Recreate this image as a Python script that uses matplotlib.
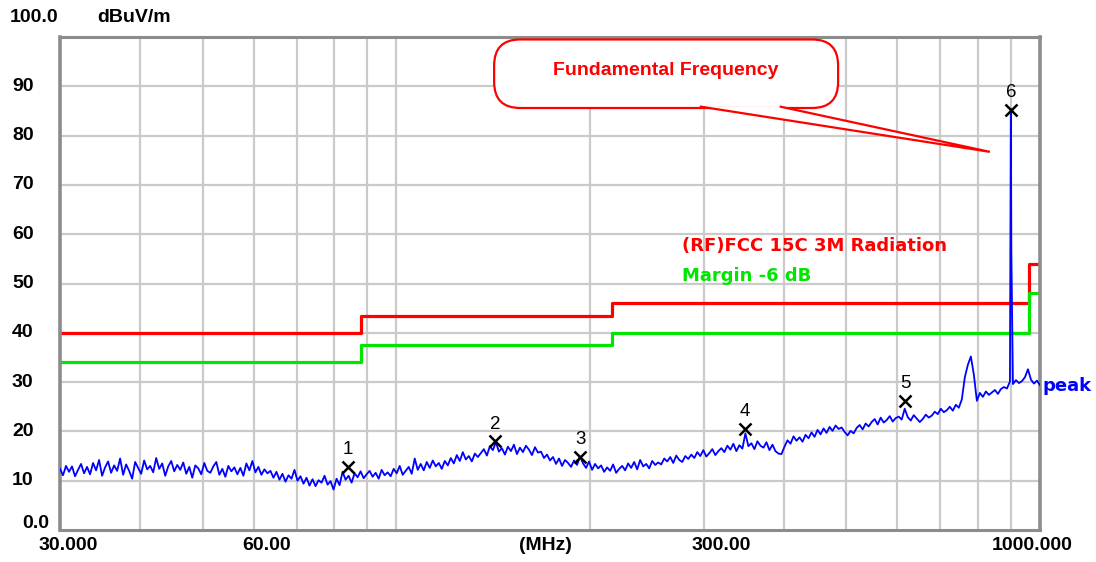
import numpy as np
import matplotlib
matplotlib.use("Agg")
import matplotlib.pyplot as plt
from matplotlib.patches import FancyBboxPatch, Polygon
from matplotlib.ticker import NullLocator

# ----------------------------------------------------------------------
# Data (dBuV/m against MHz)
# ----------------------------------------------------------------------

# Sweep 30 MHz .. 1 GHz, peak detector, one reading per sweep point
SWEEP_START = 30.0
SWEEP_STOP = 1000.0
peak_level = [
    12.4, 11.1, 13.0, 11.8, 12.9, 10.9, 12.2, 13.4, 11.5, 12.8,
    11.3, 13.6, 12.1, 14.2, 11.0, 12.7, 13.9, 11.6, 13.1, 12.0,
    14.5, 11.2, 13.3, 12.0, 10.4, 13.8, 12.6, 11.4, 14.1, 12.3,
    13.0, 11.7, 14.6, 12.4, 13.5, 11.0, 12.9, 14.0, 11.9, 13.2,
    12.2, 13.7, 11.4, 12.8, 10.6, 13.1, 12.5, 11.3, 13.6, 12.0,
    11.6, 12.9, 13.8, 11.2, 12.4, 10.8, 13.0, 11.9, 12.7, 11.3,
    12.6, 11.0, 13.5, 12.1, 14.0, 11.7, 12.8, 11.2, 12.3, 11.5,
    12.0, 10.6, 11.8, 10.2, 11.4, 9.8, 11.1, 10.4, 12.2, 10.0,
    10.9, 9.4, 10.6, 9.0, 10.3, 8.9, 10.1, 9.6, 11.0, 9.2,
    9.9, 8.2, 10.4, 9.1, 11.8, 10.2, 11.0, 9.6, 11.5, 10.7,
    11.9, 10.5, 11.3, 12.0, 10.8, 11.6, 10.4, 12.2, 11.1, 11.7,
    10.9, 12.4, 11.5, 13.0, 11.2, 12.0, 12.8, 11.4, 14.5, 12.2,
    13.4, 12.1, 13.8, 12.6, 14.1, 12.9, 13.6, 12.4, 14.0, 13.1,
    14.6, 13.5, 15.2, 14.0, 15.8, 14.3, 15.0, 13.9, 15.5, 14.8,
    15.6, 16.4, 15.1, 17.0, 16.2, 17.8, 15.9, 16.6, 15.3, 16.9,
    16.0, 17.3, 15.4, 16.7, 15.8, 17.1, 16.3, 15.2, 16.8, 15.7,
    15.9, 14.6, 15.3, 14.1, 14.8, 13.4, 14.5, 13.0, 14.2, 13.6,
    12.8, 14.1, 13.2, 14.9, 13.5, 12.6, 13.9, 12.2, 13.4, 12.5,
    13.1, 11.8, 12.7, 12.0, 13.3, 11.6, 12.4, 13.0, 12.1, 13.5,
    12.6, 13.8, 12.3, 14.2, 12.9, 13.4, 12.5, 14.0, 13.2, 13.7,
    13.3, 14.5, 13.9, 14.8, 13.6, 15.1, 14.2, 13.8, 15.0, 14.4,
    15.3, 14.6, 15.8, 15.0, 16.2, 14.9, 15.6, 16.4, 15.2, 16.0,
    16.6, 15.8, 17.1, 16.3, 17.5, 16.0, 17.2, 16.5, 19.6, 17.0,
    17.6, 16.4, 18.0, 17.1, 16.7, 17.8, 16.2, 17.3, 16.0, 15.5,
    15.4, 16.9, 18.2, 17.5, 19.0, 18.1, 18.8, 17.9, 19.3, 18.6,
    19.8, 18.9, 20.3, 19.4, 20.6, 19.7, 20.9, 20.1, 21.2, 20.5,
    20.8, 19.9, 19.2, 20.1, 19.6, 20.7, 21.3, 20.4, 21.6, 21.0,
    21.9, 22.5, 21.4, 22.8, 21.8, 22.3, 23.1, 22.0, 22.7, 23.0,
    22.4, 24.6, 22.9, 22.2, 23.3, 22.6, 21.9, 22.5, 23.4, 22.8,
    23.2, 24.0, 23.5, 24.6, 23.9, 24.3, 25.0, 24.2, 25.4, 24.8,
    26.5, 31.0, 33.5, 35.2, 31.5, 26.2, 27.8, 27.0, 28.1, 27.4,
    27.9, 28.4, 27.6, 28.6, 29.0, 28.7, 30.1, 29.6, 30.4, 29.8,
    30.2, 31.0, 32.6, 30.5, 29.7, 30.3, 29.4,
]

# the carrier (fundamental) caught on two sweep points
carrier_freq = [901.0, 902.5]
carrier_level = [85.4, 56.6]

# FCC part 15C, 3 m radiated limit, and the -6 dB margin line
limit_freq = [30, 88, 88, 216, 216, 960, 960, 1000]
limit_level = [40.0, 40.0, 43.5, 43.5, 46.0, 46.0, 54.0, 54.0]
MARGIN_DB = -6.0

# marked peaks
marker_freq = [84.1, 142.3, 192.9, 348.0, 617.0, 902.0]
marker_level = [12.8, 18.0, 14.9, 20.5, 26.2, 85.2]
marker_label = ["1", "2", "3", "4", "5", "6"]

# axes
y_ticks = [0, 10, 20, 30, 40, 50, 60, 70, 80, 90, 100]
y_tick_labels = ["0.0", "10", "20", "30", "40", "50", "60", "70", "80", "90", "100.0"]
x_ticks = [30, 60, 300, 1000]
x_tick_labels = ["30.000", "60.00", "300.00", "1000.000"]
grid_freqs = [40, 50, 60, 70, 80, 90, 100, 200, 300, 400, 500, 600, 700, 800, 900]

RED = "#ff0000"
GREEN = "#00e600"
BLUE = "#0000ff"
GRID = "#cacaca"
FRAME = "#8c8c8c"
TICK_FONT = "Liberation Sans"

# ----------------------------------------------------------------------
# Figure
# ----------------------------------------------------------------------

fig = plt.figure(figsize=(10.96, 5.62), dpi=100)
ax = fig.add_axes([60 / 1096, 32 / 562, 980 / 1096, 493 / 562])

ax.set_xscale("log")
ax.set_xlim(SWEEP_START, SWEEP_STOP)
ax.set_ylim(0, 100)

ax.set_xticks(grid_freqs)
ax.set_xticklabels([])
ax.xaxis.set_minor_locator(NullLocator())
ax.set_yticks(y_ticks[1:-1])
ax.set_yticklabels([])
ax.tick_params(length=0)
ax.grid(True, color=GRID, linewidth=1.6)
ax.set_axisbelow(True)
for side, spine in ax.spines.items():
    spine.set_color(FRAME)
    spine.set_linewidth(2.6 if side in ("left", "right") else 2.2)

# sweep readings plus the carrier points, in frequency order
freq = np.geomspace(SWEEP_START, SWEEP_STOP, len(peak_level))
freq = np.concatenate([freq, carrier_freq])
level = np.concatenate([peak_level, carrier_level])
order = np.argsort(freq)
freq, level = freq[order], level[order]

margin_level = [v + MARGIN_DB for v in limit_level]
ax.plot(limit_freq, limit_level, color=RED, linewidth=2.3, zorder=2)
ax.plot(limit_freq, margin_level, color=GREEN, linewidth=2.3, zorder=2)
ax.plot(freq, level, color=BLUE, linewidth=1.3, zorder=3)

# markers
ax.plot(marker_freq, marker_level, linestyle="none", marker="x", color="black",
        markersize=9, markeredgewidth=1.8, zorder=5)
for f, v, lab in zip(marker_freq, marker_level, marker_label):
    ax.annotate(lab, xy=(f, v), xytext=(0, 17), textcoords="offset pixels",
                ha="center", va="center", fontsize=13.5, family=TICK_FONT,
                color="black", zorder=5)

# legend-style labels
ax.text(0.635, 0.576, "(RF)FCC 15C 3M Radiation", transform=ax.transAxes,
        color=RED, fontsize=13, fontweight="bold", ha="left", va="center")
ax.text(0.635, 0.515, "Margin -6 dB", transform=ax.transAxes,
        color=GREEN, fontsize=13, fontweight="bold", ha="left", va="center")
ax.annotate("peak", xy=(1.0, level[-1]), xycoords=("axes fraction", "data"),
            xytext=(3, -1), textcoords="offset pixels", ha="left", va="center",
            color=BLUE, fontsize=13, fontweight="bold")

# tick labels, placed the way the receiver software does it
y_offsets = {"100.0": (-50, 19), "0.0": (-38, 7)}
for v, lab in zip(y_ticks, y_tick_labels):
    dx, dy = y_offsets.get(lab, (-48, 0))
    ax.annotate(lab, xy=(0, v), xycoords=("axes fraction", "data"),
                xytext=(dx, dy), textcoords="offset pixels",
                ha="left", va="center", fontsize=14, fontweight="bold",
                family=TICK_FONT)

x_offsets = [8, 13, 18, -8]
for v, lab, dx in zip(x_ticks, x_tick_labels, x_offsets):
    ax.annotate(lab, xy=(v, 0), xycoords=("data", "axes fraction"),
                xytext=(dx, -16), textcoords="offset pixels",
                ha="center", va="center", fontsize=14, fontweight="bold",
                family=TICK_FONT)

ax.annotate("dBuV/m", xy=(0, 1), xycoords="axes fraction", xytext=(37, 19),
            textcoords="offset pixels", ha="left", va="center",
            fontsize=14, fontweight="bold", family=TICK_FONT)
ax.annotate("(MHz)", xy=(0.495, 0), xycoords="axes fraction", xytext=(0, -16),
            textcoords="offset pixels", ha="center", va="center",
            fontsize=14, fontweight="bold", family=TICK_FONT)

# callout pointing at the fundamental
box = FancyBboxPatch((0.443, 0.856), 0.351, 0.139,
                     boxstyle="round,pad=0,rounding_size=%f" % (26 / 980),
                     mutation_aspect=980 / 493, transform=ax.transAxes,
                     facecolor="white", edgecolor=RED, linewidth=1.6,
                     zorder=6, clip_on=False)
ax.add_patch(box)
tail = Polygon([(296, 85.9), (836, 76.7), (394, 85.9)], closed=False,
               facecolor="white", edgecolor=RED, linewidth=1.6, zorder=7)
ax.add_patch(tail)
ax.text(0.618, 0.933, "Fundamental Frequency", transform=ax.transAxes,
        color=RED, fontsize=14, fontweight="bold", family="Liberation Sans",
        ha="center", va="center", zorder=8)

fig.savefig("out.png", dpi=100)
